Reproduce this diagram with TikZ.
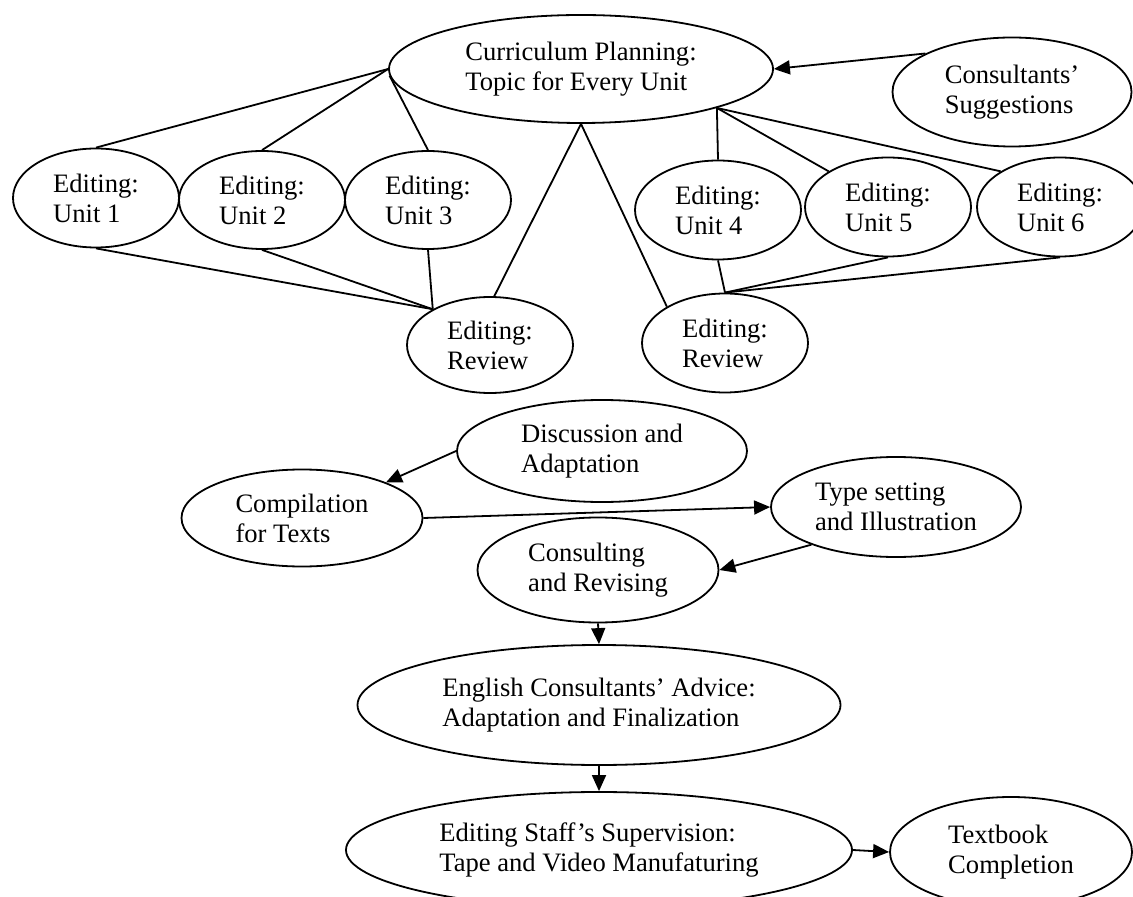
\documentclass[tikz,border=0pt]{standalone}
\usepackage{fontspec}
\setmainfont{Liberation Serif}
\usetikzlibrary{shapes.geometric,arrows.meta}
\tikzset{
  bubble/.style={draw, ellipse, line width=0.9pt, inner sep=0pt, align=left,
    font=\fontsize{13.3}{15}\selectfont},
  size/.style 2 args={minimum width=#1*0.5pt, minimum height=#2*0.5pt},
  link/.style={line width=0.9pt},
  flow/.style={line width=0.9pt, -{Triangle[length=8pt,width=7pt]}}
}
\begin{document}
\begin{tikzpicture}[x=0.5pt,y=-0.5pt]
                \useasboundingbox (0,0) rectangle (1133,897);

                \node[bubble, size={384}{108}] (plan) at (581,69) {Curriculum Planning:\\Topic for Every Unit};
                \node[bubble, size={239}{109}] (sugg) at (1012,92) {Consultants’\\Suggestions};

                \node[bubble, size={166}{99}] (u1) at (96,198) {Editing:\\Unit 1};
                \node[bubble, size={166}{98}] (u2) at (262,200) {Editing:\\Unit 2};
                \node[bubble, size={166}{98}] (u3) at (428,200) {Editing:\\Unit 3};
                \node[bubble, size={166}{96}] (rev1) at (490,345) {Editing:\\Review};

                \node[bubble, size={166}{99}] (u4) at (718,210) {Editing:\\Unit 4};
                \node[bubble, size={166}{99}] (u5) at (888,207) {Editing:\\Unit 5};
                \node[bubble, size={166}{99}] (u6) at (1060,207) {Editing:\\Unit 6};
                \node[bubble, size={166}{99}] (rev2) at (725,343) {Editing:\\Review};

                \node[bubble, size={290}{102}] (disc) at (602,451) {Discussion and\\Adaptation};
                \node[bubble, size={241}{97}] (comp) at (302,518) {Compilation\\for Texts};
                \node[bubble, size={250}{100}] (typeset) at (896,507) {Type setting\\and Illustration};
                \node[bubble, size={241}{105}] (consult) at (598,570) {Consulting\\and Revising};
                \node[bubble, size={483}{120}] (advice) at (599,705) {English Consultants’ Advice:\\Adaptation and Finalization};
                \node[bubble, size={506}{116}] (staff) at (599,850) {Editing Staff’s Supervision:\\Tape and Video Manufaturing};
                \node[bubble, size={242}{110}] (done) at (1011,852) {Textbook\\Completion};

                % units 1-3
                \draw[link] (plan.180) -- (u1.north);
                \draw[link] (plan.180) -- (u2.north);
                \draw[link] (plan.182) -- (u3.north);
                \foreach \u in {u1,u2,u3}
                    \draw[link] (\u.south) -- (rev1.148);
                \draw[link] (rev1.85) -- (plan.south);

                % units 4-6
                \draw[link] (plan.south) -- (rev2.148);
                \draw[link] (plan.344) -- (u4.north);
                \draw[link] (plan.344) -- (u5.149);
                \draw[link] (plan.344) -- (u6.149);
                \foreach \u in {u4,u5,u6}
                    \draw[link] (\u.south) -- (rev2.north);

                % flow
                \draw[flow] (sugg.156) -- (plan.east);
                \draw[flow] (disc.west) -- (comp.23);
                \draw[flow] (comp.east) -- (typeset.west);
                \draw[flow] (typeset.204) -- (consult.east);
                \draw[flow] (consult.south) -- (advice.north);
                \draw[flow] (advice.south) -- (staff.north);
                \draw[flow] (staff.east) -- (done.west);
            \end{tikzpicture}
\end{document}
